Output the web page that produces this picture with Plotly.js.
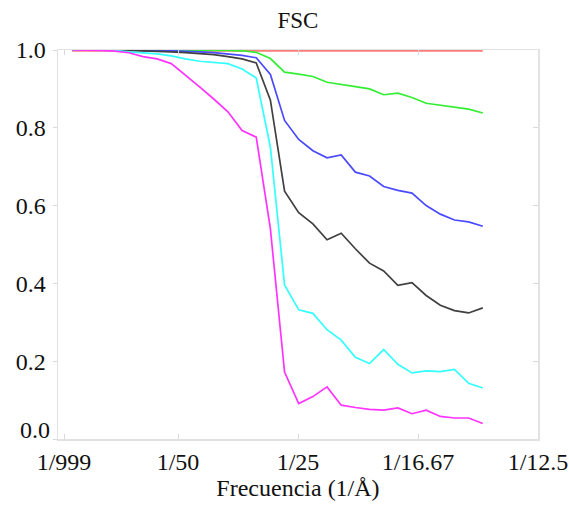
<!DOCTYPE html>
<html><head><meta charset="utf-8">
<script src="https://cdn.plot.ly/plotly-3.0.1.min.js"></script>
<style>
html,body{margin:0;padding:0;background:#fff}
#chart svg text{font-family:'Liberation Serif',serif !important}
#chart .xtick text,#chart .ytick text,#chart .xtitle,#chart .annotation-text{font-size:24px !important}
#chart .gtitle{font-size:23px !important}
</style>
</head><body>
<div id="chart" style="width:569px;height:506px"></div>
<script>
const frequency = [0.00236, 0.00472, 0.00708, 0.00944, 0.0118, 0.01416, 0.01652, 0.01888, 0.02124, 0.0236,
  0.02596, 0.02832, 0.03068, 0.03304, 0.0354, 0.03776, 0.04012, 0.04248, 0.04484, 0.0472,
  0.04956, 0.05192, 0.05428, 0.05664, 0.059, 0.06136, 0.06372, 0.06608, 0.06844, 0.0708];

const xTickValues = [0.001, 0.02, 0.04, 0.06, 0.08];
const xTickLabels = ['1/999', '1/50', '1/25', '1/16.67', '1/12.5'];
const yTickValues = [0, 0.2, 0.4, 0.6, 0.8, 1.0];
const yTickLabels = ['', '0.2', '0.4', '0.6', '0.8', '1.0'];
const yZeroLabel = '0.0';

const fscRed = [1, 1, 1, 1, 1, 1, 1, 1, 1, 1, 1, 1, 1, 1, 1, 1, 1, 1, 1, 1, 1, 1, 1, 1, 1, 1, 1, 1, 1, 1];
const fscGreen = [1, 1, 1, 1, 1, 1, 1, 1, 1, 1, 1, 0.999, 0.998, 0.994, 0.978, 0.943, 0.938, 0.932, 0.917, 0.912,
  0.906, 0.900, 0.885, 0.889, 0.878, 0.863, 0.858, 0.853, 0.848, 0.838];
const fscBlue = [1, 1, 1, 1, 1, 1, 0.999, 0.998, 0.997, 0.995, 0.993, 0.990, 0.986, 0.980, 0.937, 0.819, 0.770, 0.741, 0.723, 0.730,
  0.686, 0.676, 0.649, 0.639, 0.632, 0.600, 0.578, 0.563, 0.558, 0.547];
const fscBlack = [1, 1, 1, 1, 0.999, 0.998, 0.997, 0.995, 0.993, 0.991, 0.988, 0.983, 0.977, 0.967, 0.871, 0.637, 0.582, 0.553, 0.512, 0.529,
  0.489, 0.452, 0.432, 0.395, 0.402, 0.369, 0.344, 0.330, 0.324, 0.337];
const fscCyan = [1, 1, 1, 0.999, 0.995, 0.993, 0.990, 0.985, 0.977, 0.971, 0.968, 0.965, 0.951, 0.928, 0.750, 0.396, 0.332, 0.323, 0.281, 0.254,
  0.210, 0.194, 0.230, 0.192, 0.170, 0.175, 0.173, 0.179, 0.143, 0.131];
const fscMagenta = [1, 1, 0.999, 0.997, 0.993, 0.983, 0.977, 0.965, 0.936, 0.905, 0.874, 0.841, 0.793, 0.776, 0.540, 0.172, 0.091, 0.109, 0.134, 0.087,
  0.081, 0.076, 0.074, 0.080, 0.065, 0.074, 0.058, 0.054, 0.054, 0.040];

const serif = 'Liberation Serif';
const textColor = '#111111';
function line(y, color, width) {
  return {x: frequency, y: y, type: 'scatter', mode: 'lines', hoverinfo: 'skip',
          line: {color: color, width: width}};
}
const traces = [
  line(fscRed, '#ff7a7a', 3.5),
  line(fscGreen, '#33ee33', 1.7),
  line(fscBlue, '#4a4aff', 1.7),
  line(fscBlack, '#404040', 1.7),
  line(fscCyan, '#33ffff', 1.7),
  line(fscMagenta, '#ff33ff', 1.7),
  {x: frequency, y: fscRed, yaxis: 'y2', type: 'scatter', mode: 'lines', opacity: 0,
   hoverinfo: 'skip', line: {width: 0}}
];

const layout = {
  width: 569, height: 506,
  margin: {l: 58, r: 31, t: 50, b: 67},
  paper_bgcolor: '#ffffff', plot_bgcolor: '#ffffff',
  showlegend: false,
  font: {family: serif, size: 24, color: textColor},
  title: {text: 'FSC', font: {family: serif, size: 23, color: textColor},
          x: 0.5, xanchor: 'center', xref: 'paper', y: 1 - 20 / 506, yref: 'container', yanchor: 'middle'},
  xaxis: {
    range: [0, 0.08], tickmode: 'array', tickvals: xTickValues, ticktext: xTickLabels,
    ticks: 'inside', ticklen: 5, tickcolor: '#d8d8d8', tickwidth: 1, tickangle: 0,
    showline: true, linecolor: '#e2e2e2', linewidth: 1.5, mirror: 'ticks',
    showgrid: false, zeroline: false, ticklabelstandoff: 1,
    tickfont: {family: serif, size: 24, color: textColor},
    title: {text: 'Frecuencia (1/Å)', font: {family: serif, size: 24, color: textColor}, standoff: 4}
  },
  yaxis: {
    range: [0, 1], tickmode: 'array', tickvals: yTickValues, ticktext: yTickLabels,
    ticks: 'outside', ticklen: 4, tickcolor: '#d8d8d8', tickwidth: 1,
    showline: true, linecolor: '#e2e2e2', linewidth: 1.5, mirror: true,
    showgrid: false, zeroline: false, ticklabelstandoff: 2,
    tickfont: {family: serif, size: 24, color: textColor}
  },
  yaxis2: {
    overlaying: 'y', side: 'right', range: [0, 1], tickmode: 'array', tickvals: yTickValues,
    ticks: 'inside', ticklen: 5, tickcolor: '#d8d8d8', showticklabels: false,
    showline: false, showgrid: false, zeroline: false
  },
  annotations: [{
    text: yZeroLabel, xref: 'paper', x: 0, yref: 'y', y: yTickValues[0],
    xanchor: 'right', yanchor: 'middle', xshift: -6, yshift: 9, showarrow: false,
    font: {family: serif, size: 24, color: textColor}
  }]
};

Plotly.newPlot('chart', traces, layout, {staticPlot: true, displayModeBar: false});
</script>
</body></html>
